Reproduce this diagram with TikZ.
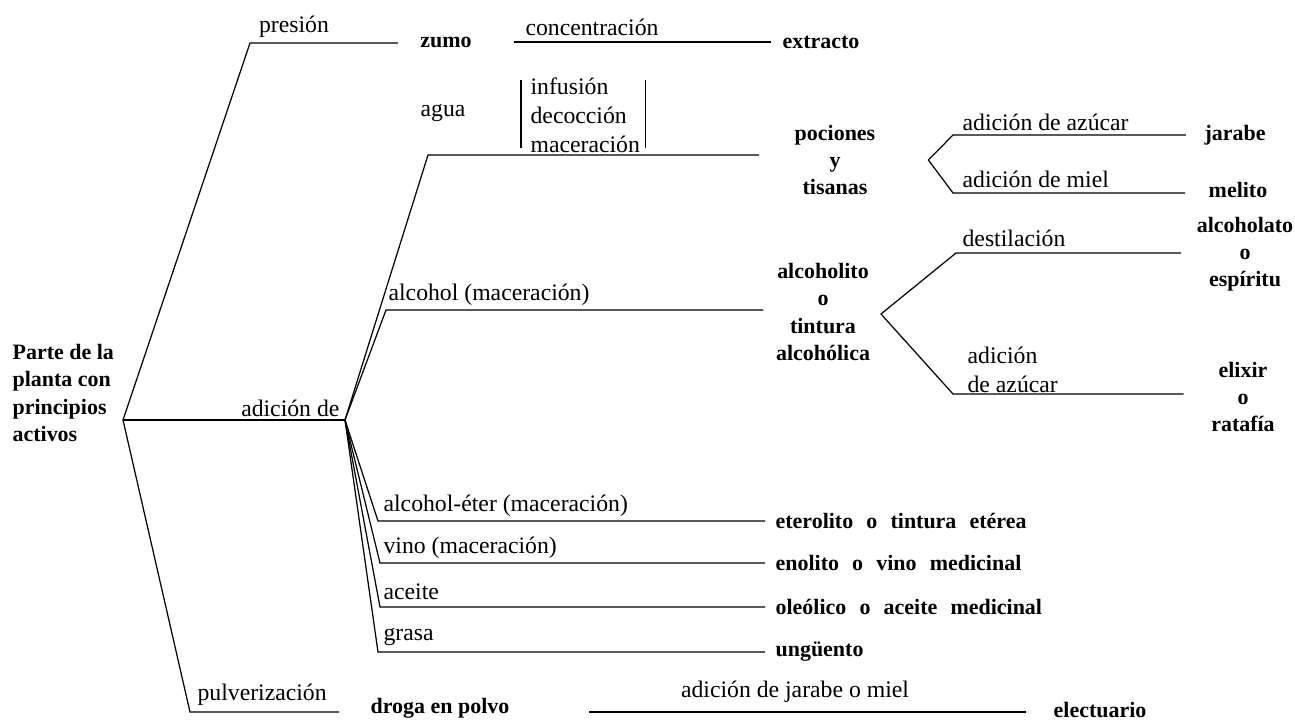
\documentclass[tikz,border=0pt]{standalone}
\usepackage{fontspec}
\setmainfont{Liberation Serif}
\usetikzlibrary{positioning}
\newcommand\widesp{\spaceskip=0.6em plus 0.1em\relax}

\begin{document}
\begin{tikzpicture}[
    x=0.02cm, y=-0.02cm,
    line width=0.7pt,
    lbl/.style={font=\fontsize{13.5}{16.5}\selectfont, inner sep=0pt},
    term/.style={font=\fontsize{12.5}{15.5}\selectfont\bfseries, align=center, inner sep=0pt},
    wide/.style={font=\fontsize{12.5}{15.5}\selectfont\bfseries\widesp, inner sep=0pt, anchor=west}
]
\useasboundingbox (0,0) rectangle (1295,720);

% Root
\node[term, align=left, anchor=west] (root) at (12,393) {Parte de la\\planta con\\principios\\activos};
\coordinate (j0) at (123,420);
\coordinate (jAd) at (345,420);

% Presion branch
\coordinate (cPres) at (250,43);
\node[term] (zumo) at (446,42) {zumo};
\node[term] (extracto) at (821,42) {extracto};
\node[lbl] (lPres) at (294,27) {presión};
\node[lbl] (lConc) at (592,27) {concentración};
\draw[shorten >=0.44cm] (j0) -- (cPres) -- (cPres -| zumo.west);
\draw[shorten <=0.84cm, shorten >=0.22cm] (zumo.east) -- (extracto.west);

% Agua
\coordinate (cAgua) at (428,155);
\node[lbl] (lAgua) at (443,113) {agua};
\node[lbl, align=left, anchor=west, text width=2.1cm, inner xsep=0.18cm] (brk) at (521,115) {infusión\\decocción\\maceración};
\draw ([yshift=-2pt]brk.north west) -- ([yshift=3pt]brk.south west);
\draw ([yshift=-2pt]brk.north east) -- ([yshift=3pt]brk.south east);
\node[term] (pociones) at (835,160) {pociones\\y\\tisanas};
\draw[shorten >=0.7cm] (jAd) -- (cAgua) -- (cAgua -| pociones.west);

\coordinate[right=1.05cm of pociones] (vPoc);
\coordinate (cAz) at (953,135);
\coordinate (cMi) at (953,193);
\node[term] (jarabe) at (1235,135) {jarabe};
\node[term] (melito) at (1238,190) {melito};
\node[lbl, anchor=west] (lAz) at (962,122) {adición de azúcar};
\node[lbl, anchor=west] (lMi) at (962,179) {adición de miel};
\draw[shorten <=0.36cm, shorten >=0.46cm] (cAz -| jarabe.west) -- (cAz) -- (vPoc) -- (cMi) -- (cMi -| melito.west);

% Alcohol
\coordinate (cAlc) at (386,310);
\node[lbl, anchor=west] (lAlc) at (388,295) {alcohol (maceración)};
\node[term] (alcoholito) at (823,312) {alcoholito\\o\\tintura\\alcohólica};
\draw[shorten >=0.24cm] (jAd) -- (cAlc) -- (cAlc -| alcoholito.west);

\coordinate (vAlc) at (881,314);
\coordinate (cDes) at (956,253);
\coordinate (cEli) at (953,394);
\node[term] (alcoholato) at (1245,254) {alcoholato\\o\\espíritu};
\node[term] (elixir) at (1243,397) {elixir\\o\\ratafía};
\node[lbl, anchor=west] (lDes) at (962,238) {destilación};
\node[lbl, anchor=west, align=left] (lAzu) at (967,370) {adición\\de azúcar};
\draw[shorten <=0.3cm, shorten >=0.54cm] (cDes -| alcoholato.west) -- (cDes) -- (vAlc) -- (cEli) -- (cEli -| elixir.west);

% Adicion de
\node[lbl, anchor=east] (lAd) at (340,408) {adición de};
\draw (j0) -- (jAd);

% Lower fan
\coordinate (cEt) at (378,521);
\coordinate (cVi) at (380,563);
\coordinate (cAc) at (380,607);
\coordinate (cGr) at (378,652);
\node[lbl, anchor=west] (lEt) at (383,506) {alcohol-éter (maceración)};
\node[lbl, anchor=west] (lVi) at (383,548) {vino (maceración)};
\node[lbl, anchor=west] (lAc) at (383,592) {aceite};
\node[lbl, anchor=west] (lGr) at (383,637) {grasa};
\node[wide] (eterolito) at (775,521) {eterolito o tintura etérea};
\node[wide] (enolito) at (775,563) {enolito o vino medicinal};
\node[wide] (oleolico) at (775,607) {oleólico o aceite medicinal};
\node[wide] (unguento) at (775,652) {ungüento};
\foreach \c/\t in {cEt/eterolito, cVi/enolito, cAc/oleolico, cGr/unguento}
    \draw[shorten >=0.2cm] (jAd) -- (\c) -- (\c -| \t.west);

% Pulverizacion
\coordinate (cPul) at (190,712);
\node[lbl, anchor=west] (lPul) at (197,695) {pulverización};
\node[term] (droga) at (440,708) {droga en polvo};
\node[term, anchor=base] (electuario) at (1100,717) {electuario};
\node[lbl] (lJar) at (795,692) {adición de jarabe o miel};
\draw[shorten >=0.62cm] (j0) -- (cPul) -- (cPul -| droga.west);
\draw[shorten <=1.58cm, shorten >=0.54cm] (cPul -| droga.east) -- (cPul -| electuario.west);
\end{tikzpicture}
\end{document}
